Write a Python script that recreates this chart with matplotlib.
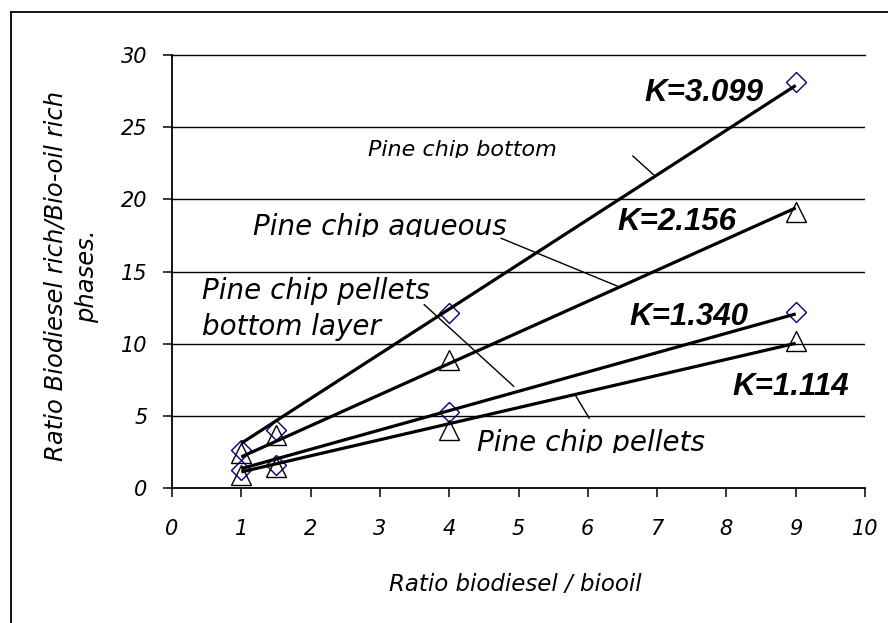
import matplotlib
matplotlib.use("Agg")
import matplotlib.pyplot as plt
from matplotlib.lines import Line2D
from matplotlib.transforms import Bbox, TransformedBbox

# biodiesel / bio-oil mixing ratios used in the runs
ratio = [1, 1.5, 4, 9]

# phase ratio measured for each feed
chip_bottom = [2.65, 4.0, 12.1, 28.1]
chip_aqueous = [2.45, 3.65, 8.9, 19.1]
pellets_bottom_layer = [1.25, 1.6, 5.3, 12.2]
pellets = [0.9, 1.45, 4.0, 10.2]

# partition coefficients (slope of a line through the origin)
k_values = [3.099, 2.156, 1.340, 1.114]
fit_range = [1, 9]

x_ticks = list(range(0, 11))
y_ticks = list(range(0, 31, 5))

NAVY = "#000080"

fig = plt.figure(figsize=(8.88, 6.23), dpi=100)
ax = fig.add_axes([0.1937, 0.2167, 0.7804, 0.695])

# outer chart frame (only top and left edges fall inside the image)
fig.add_artist(Line2D([0.0124, 1.0], [0.9807, 0.9807], color="black", lw=1.3,
                      transform=fig.transFigure))
fig.add_artist(Line2D([0.0124, 0.0124], [0.0, 0.9807], color="black", lw=1.3,
                      transform=fig.transFigure))

for y in y_ticks[1:-1]:
    ax.axhline(y, color="black", lw=1.0, zorder=1)

diamond = dict(marker="D", ms=9.7, mfc="none", mec=NAVY, mew=1.0, ls="none", zorder=3)
triangle = dict(marker="^", ms=14.4, mfc="none", mec="black", mew=1.0, ls="none", zorder=3)
ax.plot(ratio, chip_bottom, **diamond)
ax.plot(ratio, pellets_bottom_layer, **diamond)
ax.plot(ratio, chip_aqueous, **triangle)
ax.plot(ratio, pellets, **triangle)

for k in k_values:
    ax.plot(fit_range, [k * x for x in fit_range], color="black", lw=2.3,
            solid_capstyle="butt", zorder=4)

# slope labels
k_pos = [(7.68, 27.4), (7.28, 18.45), (7.46, 11.86), (8.93, 6.97)]
for k, (x, y) in zip(k_values, k_pos):
    ax.text(x, y, f"K={k:.3f}", ha="center", va="center", fontsize=22.5,
            family="Liberation Sans", weight="bold", style="italic", zorder=5)


def clipped_label(x, y, text, size, clip_y):
    t = ax.text(x, y, text, ha="left", va="baseline", fontsize=size,
                style="italic", zorder=5)
    box = TransformedBbox(Bbox.from_extents(0, clip_y, 10, 30), ax.transData)
    t.set_clip_box(box)
    t.set_clip_on(True)
    return t


clipped_label(2.83, 23.0, "Pine chip bottom", 16, 22.88)
clipped_label(1.17, 17.5, "Pine chip aqueous", 20, 17.38)
clipped_label(4.40, 2.55, "Pine chip pellets", 20, 2.43)
ax.text(0.44, 10.6, "Pine chip pellets\nbottom layer", ha="left", va="baseline",
        fontsize=20, style="italic", linespacing=1.37, zorder=5)

# leader lines from the labels to the fits
leaders = [((6.65, 6.95), (23.0, 21.7)),
           ((4.75, 6.42), (17.3, 14.0)),
           ((3.64, 4.93), (12.7, 7.05)),
           ((5.82, 6.02), (6.43, 4.84))]
for xs, ys in leaders:
    ax.plot(xs, ys, color="black", lw=1.0, zorder=4)

ax.set_xlim(0, 10)
ax.set_ylim(0, 30)
ax.set_xticks(x_ticks)
ax.set_yticks(y_ticks)
ax.set_xticklabels([str(v) for v in x_ticks], fontsize=15, style="italic")
ax.set_yticklabels([str(v) for v in y_ticks], fontsize=15, style="italic")
ax.tick_params(axis="both", direction="out", length=6.5, width=1.1, color="black")
ax.tick_params(axis="y", pad=11)
ax.tick_params(axis="x", pad=16)

ax.spines["right"].set_visible(False)
for side in ("left", "bottom"):
    ax.spines[side].set_linewidth(1.3)
ax.spines["top"].set_linewidth(1.0)

ax.set_xlabel("Ratio biodiesel / biooil", fontsize=16.5, style="italic",
              va="center")
ax.xaxis.set_label_coords(0.496, -0.224)
ax.set_ylabel("Ratio Biodiesel rich/Bio-oil rich\nphases.", fontsize=17.5,
              style="italic", ha="center", va="center", linespacing=1.4)
ax.yaxis.set_label_coords(-0.145, 0.49)

fig.savefig("out.png", dpi=100)
